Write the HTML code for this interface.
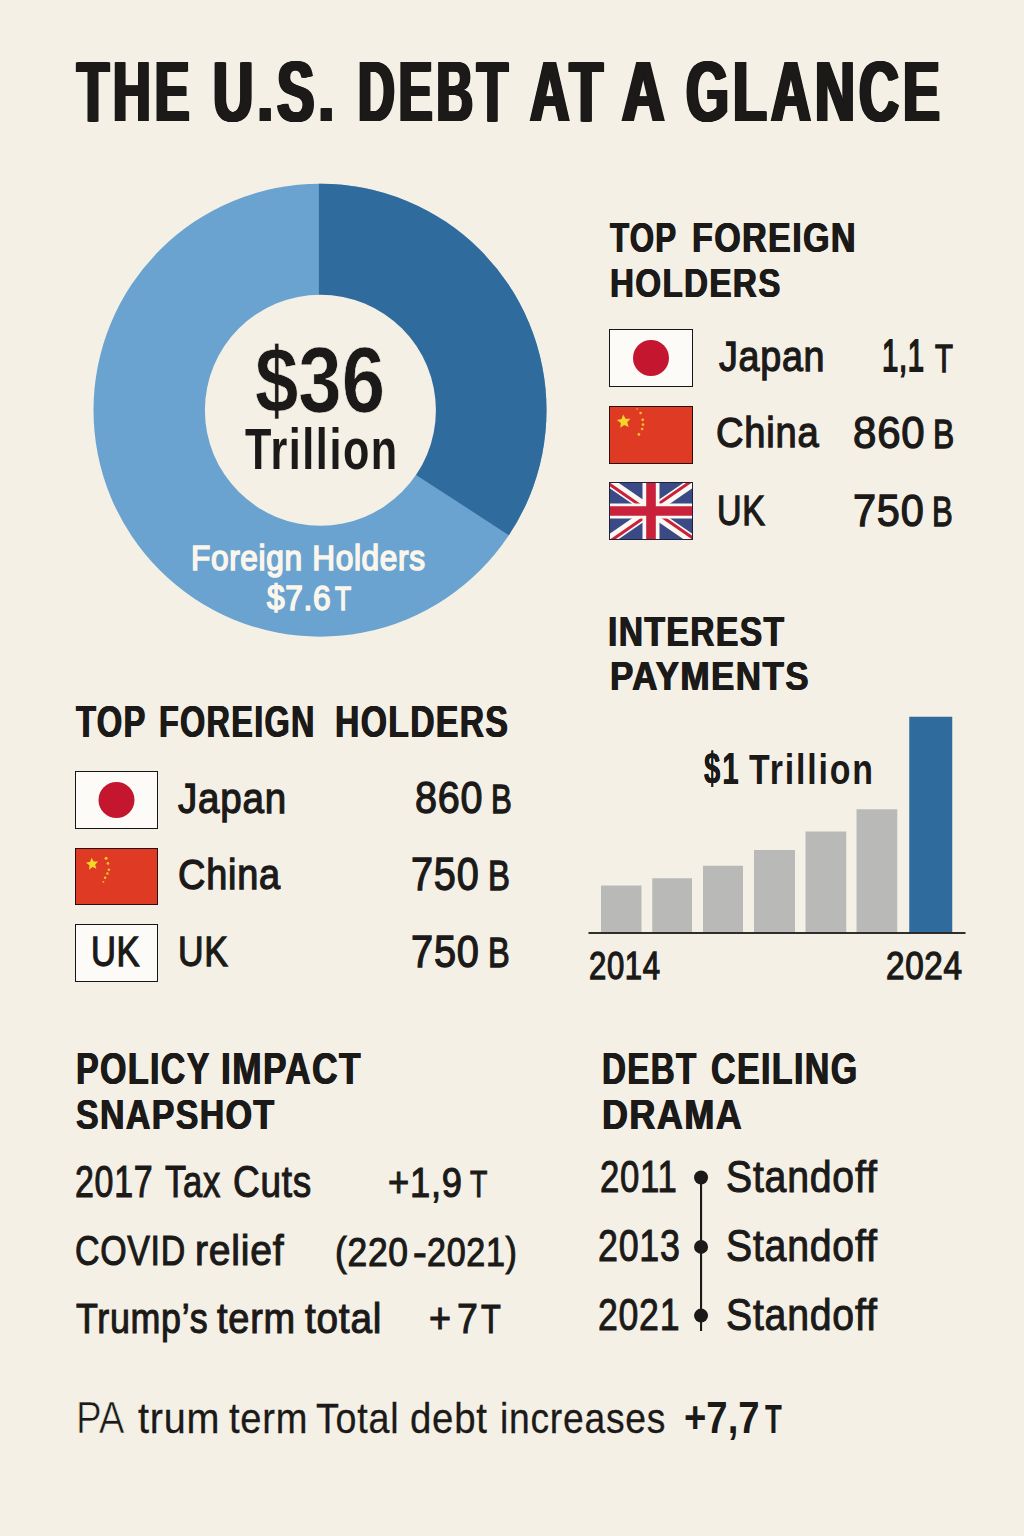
<!DOCTYPE html>
<html lang="en">
<head>
<meta charset="utf-8">
<title>The U.S. Debt at a Glance</title>
<style>
html,body{margin:0;padding:0}
body{width:1024px;height:1536px;position:relative;overflow:hidden;background:#f5f0e5;color:#1b1a19;font-family:"Liberation Sans",sans-serif;}
h1,h2,p,ul,li,section,header,footer,div{margin:0;padding:0;font-size:inherit;font-weight:normal;list-style:none}
svg.gfx{position:absolute;left:0;top:0;width:1024px;height:1536px;display:block}
.t{position:absolute;white-space:pre;line-height:1;transform-origin:0 0;display:block}
</style>
</head>
<body>
<svg class="gfx" width="1024" height="1536" viewBox="0 0 1024 1536" aria-hidden="true">
<g id="donut"><clipPath id="dc"><circle cx="320.0" cy="410.2" r="226.5"/></clipPath><circle cx="320.0" cy="410.2" r="226.5" fill="#6aa3cf"/><polygon clip-path="url(#dc)" points="318.9,150 318.9,411.7 416.9,475.4 620,607.4 620,150" fill="#2f6b9d"/><circle cx="320.4" cy="410.2" r="115.5" fill="#f5f0e5"/></g>
<g id="flags-right"><g><rect x="609.5" y="329.5" width="83" height="57" fill="#fcfbf8" stroke="#161616" stroke-width="1"/><circle cx="651.00" cy="358.00" r="18" fill="#c5162f"/></g><g><rect x="609.5" y="406.5" width="83" height="57" fill="#df3a23" stroke="#2a100c" stroke-width="1"/><polygon points="623.15,414.44 625.59,418.67 630.48,418.67 627.21,422.30 628.72,426.95 624.25,424.97 620.30,427.84 620.81,422.98 616.86,420.10 621.64,419.09" fill="#f6d52a"/><circle cx="637.10" cy="409.00" r="0.8" fill="#f2c230"/><circle cx="640.60" cy="413.00" r="1.3" fill="#f2c230"/><circle cx="642.70" cy="419.80" r="1.4" fill="#f2c230"/><circle cx="643.00" cy="424.60" r="1.3" fill="#f2c230"/><circle cx="642.10" cy="429.00" r="1.3" fill="#f2c230"/><circle cx="638.90" cy="434.40" r="1.4" fill="#f2c230"/></g><g><clipPath id="ukc"><rect x="609" y="482" width="84" height="58"/></clipPath>
<g clip-path="url(#ukc)"><rect x="609" y="482" width="84" height="58" fill="#3a4a87"/>
<path d="M651.00 511.00L602.42 477.45M651.00 511.00L699.58 477.45M651.00 511.00L699.58 544.55M651.00 511.00L602.42 544.55" stroke="#fbf8f2" stroke-width="9.5"/>
<path d="M650.09 512.32L601.51 478.77M650.09 509.68L698.67 476.14M651.91 509.68L700.49 543.23M651.91 512.32L603.33 545.86" stroke="#c9213b" stroke-width="3"/>
<path d="M651.0 482V540" stroke="#fbf8f2" stroke-width="17"/><path d="M609 511.0H693" stroke="#fbf8f2" stroke-width="15"/>
<path d="M651.0 482V540M609 511.0H693" stroke="#c9213b" stroke-width="9.6"/></g>
<rect x="609.5" y="482.5" width="83" height="57" fill="none" stroke="#1f2238" stroke-width="1"/></g></g>
<g id="flags-left"><g><rect x="75.5" y="771.5" width="82" height="57" fill="#fcfbf8" stroke="#161616" stroke-width="1"/><circle cx="116.50" cy="800.00" r="18" fill="#c5162f"/></g><g><rect x="75.5" y="848.5" width="82" height="56" fill="#df3a23" stroke="#2a100c" stroke-width="1"/><polygon points="91.53,857.74 93.70,861.49 98.05,861.50 95.14,864.73 96.48,868.86 92.51,867.09 89.00,869.64 89.45,865.32 85.94,862.77 90.19,861.86" fill="#f6d52a"/><circle cx="106.10" cy="858.30" r="1.5" fill="#f2c230"/><circle cx="107.90" cy="863.40" r="1.3" fill="#f2c230"/><circle cx="108.90" cy="869.70" r="1.3" fill="#f2c230"/><circle cx="107.40" cy="873.50" r="1.2" fill="#f2c230"/><circle cx="105.10" cy="877.80" r="1.3" fill="#f2c230"/><circle cx="103.40" cy="881.80" r="0.9" fill="#f2c230"/></g><rect x="75.5" y="924.5" width="82" height="57" fill="#fcfbf8" stroke="#161616" stroke-width="1"/></g>
<g id="bars"><rect x="601" y="885.5" width="40.50" height="47.00" fill="#b9b9b8"/><rect x="652.25" y="878.25" width="39.75" height="54.25" fill="#b9b9b8"/><rect x="703" y="865.75" width="40.00" height="66.75" fill="#b9b9b8"/><rect x="754" y="850" width="41.00" height="82.50" fill="#b9b9b8"/><rect x="805.5" y="831.5" width="40.75" height="101.00" fill="#b9b9b8"/><rect x="856.5" y="809.25" width="40.75" height="123.25" fill="#b9b9b8"/><rect x="909.25" y="716.75" width="43" height="215.75" fill="#2f6b9d"/><rect x="588.5" y="932.1" width="377" height="1.8" fill="#1b1a19"/></g>
<g id="timeline"><rect x="700" y="1177.5" width="2.1" height="153.5" fill="#1b1a19"/><circle cx="701.05" cy="1177.5" r="7" fill="#1b1a19"/><circle cx="701.05" cy="1246.9" r="7" fill="#1b1a19"/><circle cx="701.05" cy="1315.6" r="7" fill="#1b1a19"/></g>
</svg>
<header><h1><span class="t" style="left:76.68px;top:49.0px;font-size:85.71px;transform:scaleX(0.611);font-weight:bold;letter-spacing:6.43px;text-shadow:0.91px 0 0 #1b1a19,-0.91px 0 0 #1b1a19,1.83px 0 0 #1b1a19,-1.83px 0 0 #1b1a19,2.74px 0 0 #1b1a19,-2.74px 0 0 #1b1a19;">THE</span> <span class="t" style="left:212.53px;top:49.0px;font-size:85.71px;transform:scaleX(0.6505);font-weight:bold;letter-spacing:6.43px;text-shadow:0.91px 0 0 #1b1a19,-0.91px 0 0 #1b1a19,1.83px 0 0 #1b1a19,-1.83px 0 0 #1b1a19,2.74px 0 0 #1b1a19,-2.74px 0 0 #1b1a19;">U.S.</span> <span class="t" style="left:357.66px;top:49.0px;font-size:85.71px;transform:scaleX(0.5935);font-weight:bold;letter-spacing:6.43px;text-shadow:0.91px 0 0 #1b1a19,-0.91px 0 0 #1b1a19,1.83px 0 0 #1b1a19,-1.83px 0 0 #1b1a19,2.74px 0 0 #1b1a19,-2.74px 0 0 #1b1a19;">DEBT</span> <span class="t" style="left:529.97px;top:49.0px;font-size:85.71px;transform:scaleX(0.6386);font-weight:bold;letter-spacing:6.43px;text-shadow:0.91px 0 0 #1b1a19,-0.91px 0 0 #1b1a19,1.83px 0 0 #1b1a19,-1.83px 0 0 #1b1a19,2.74px 0 0 #1b1a19,-2.74px 0 0 #1b1a19;">AT</span> <span class="t" style="left:621.51px;top:49.0px;font-size:85.71px;transform:scaleX(0.6852);font-weight:bold;letter-spacing:6.43px;text-shadow:0.91px 0 0 #1b1a19,-0.91px 0 0 #1b1a19,1.83px 0 0 #1b1a19,-1.83px 0 0 #1b1a19,2.74px 0 0 #1b1a19,-2.74px 0 0 #1b1a19;">A</span> <span class="t" style="left:685.83px;top:49.0px;font-size:85.71px;transform:scaleX(0.6445);font-weight:bold;letter-spacing:6.43px;text-shadow:0.91px 0 0 #1b1a19,-0.91px 0 0 #1b1a19,1.83px 0 0 #1b1a19,-1.83px 0 0 #1b1a19,2.74px 0 0 #1b1a19,-2.74px 0 0 #1b1a19;">GLANCE</span></h1></header>
<section class="donut"><p><span class="t" style="left:255.36px;top:334.35px;font-size:92.43px;transform:scaleX(0.8428);font-weight:bold;-webkit-text-stroke:0.7px #f5f0e5;">$36</span> <span class="t" style="left:245.0px;top:421.0px;font-size:57.14px;transform:scaleX(0.7562);font-weight:bold;letter-spacing:2.0px;">Trillion</span> <span class="t" style="left:190.93px;top:540.2px;font-size:35.36px;transform:scaleX(0.8949);letter-spacing:0.71px;color:#fbf6ec;-webkit-text-stroke:1.6px #fbf6ec;">Foreign Holders</span> <span class="t" style="left:266.53px;top:581.2px;font-size:34.86px;transform:scaleX(0.908);letter-spacing:0.7px;color:#fbf6ec;-webkit-text-stroke:1.6px #fbf6ec;">$7.6</span> <span class="t" style="left:334.62px;top:582.2px;font-size:33.91px;transform:scaleX(0.7778);letter-spacing:0.68px;color:#fbf6ec;-webkit-text-stroke:1.6px #fbf6ec;">T</span></p></section>
<section class="holders-right">
<h2><span class="t" style="left:609.5px;top:216.0px;font-size:42.86px;transform:scaleX(0.7292);font-weight:bold;letter-spacing:1.71px;text-shadow:0.69px 0 0 #1b1a19,-0.69px 0 0 #1b1a19;">TOP</span> <span class="t" style="left:691.95px;top:216.0px;font-size:42.86px;transform:scaleX(0.7957);font-weight:bold;letter-spacing:1.71px;text-shadow:0.69px 0 0 #1b1a19,-0.69px 0 0 #1b1a19;">FOREIGN</span> <span class="t" style="left:609.68px;top:262.0px;font-size:41.43px;transform:scaleX(0.8015);font-weight:bold;letter-spacing:1.66px;text-shadow:0.66px 0 0 #1b1a19,-0.66px 0 0 #1b1a19;">HOLDERS</span></h2>
<ul><li><span class="t" style="left:718.82px;top:335.35px;font-size:43.04px;transform:scaleX(0.8746);letter-spacing:0.86px;-webkit-text-stroke:1.3px #1b1a19;">Japan</span> <span class="t" style="left:882.19px;top:334.1px;font-size:43.77px;transform:scaleX(0.6711);letter-spacing:0.88px;-webkit-text-stroke:1.8px #1b1a19;">1,1</span> <span class="t" style="left:935.24px;top:340.35px;font-size:38.7px;transform:scaleX(0.7593);letter-spacing:0.77px;-webkit-text-stroke:1.3px #1b1a19;">T</span></li><li><span class="t" style="left:715.81px;top:411.35px;font-size:43.04px;transform:scaleX(0.8851);letter-spacing:0.86px;-webkit-text-stroke:1.3px #1b1a19;">China</span> <span class="t" style="left:853.27px;top:411.35px;font-size:44.49px;transform:scaleX(0.9429);letter-spacing:0.89px;-webkit-text-stroke:1.3px #1b1a19;">860</span> <span class="t" style="left:932.89px;top:415.35px;font-size:40.14px;transform:scaleX(0.7918);letter-spacing:0.8px;-webkit-text-stroke:1.3px #1b1a19;">B</span></li><li><span class="t" style="left:717.08px;top:490.35px;font-size:41.59px;transform:scaleX(0.8179);letter-spacing:0.83px;-webkit-text-stroke:1.3px #1b1a19;">UK</span> <span class="t" style="left:853.24px;top:489.35px;font-size:44.49px;transform:scaleX(0.9312);letter-spacing:0.89px;-webkit-text-stroke:1.3px #1b1a19;">750</span> <span class="t" style="left:932.34px;top:491.35px;font-size:41.59px;transform:scaleX(0.7469);letter-spacing:0.83px;-webkit-text-stroke:1.3px #1b1a19;">B</span></li></ul>
</section>
<section class="interest">
<h2><span class="t" style="left:608.47px;top:610.0px;font-size:42.86px;transform:scaleX(0.7866);font-weight:bold;letter-spacing:1.71px;text-shadow:0.69px 0 0 #1b1a19,-0.69px 0 0 #1b1a19;">INTEREST</span> <span class="t" style="left:609.62px;top:655.0px;font-size:41.43px;transform:scaleX(0.8456);font-weight:bold;letter-spacing:1.66px;text-shadow:0.66px 0 0 #1b1a19,-0.66px 0 0 #1b1a19;">PAYMENTS</span></h2>
<p><span class="t" style="left:703.62px;top:748.0px;font-size:43.48px;transform:scaleX(0.6724);font-weight:bold;letter-spacing:3.04px;text-shadow:0.17px 0 0 #1b1a19,-0.17px 0 0 #1b1a19;">$1</span> <span class="t" style="left:749.0px;top:748.0px;font-size:42.86px;transform:scaleX(0.7897);font-weight:bold;letter-spacing:2.36px;">Trillion</span> <span class="t" style="left:589.47px;top:947.35px;font-size:38.7px;transform:scaleX(0.8024);letter-spacing:0.77px;-webkit-text-stroke:1.3px #1b1a19;">2014</span> <span class="t" style="left:885.7px;top:947.35px;font-size:38.7px;transform:scaleX(0.8591);letter-spacing:0.77px;-webkit-text-stroke:1.3px #1b1a19;">2024</span></p>
</section>
<section class="holders-left">
<h2><span class="t" style="left:75.77px;top:700.0px;font-size:44.29px;transform:scaleX(0.7395);font-weight:bold;letter-spacing:1.77px;text-shadow:0.71px 0 0 #1b1a19,-0.71px 0 0 #1b1a19;">TOP</span> <span class="t" style="left:159.31px;top:700.0px;font-size:44.29px;transform:scaleX(0.7316);font-weight:bold;letter-spacing:1.77px;text-shadow:0.71px 0 0 #1b1a19,-0.71px 0 0 #1b1a19;">FOREIGN</span> <span class="t" style="left:334.52px;top:700.0px;font-size:44.29px;transform:scaleX(0.7611);font-weight:bold;letter-spacing:1.77px;text-shadow:0.71px 0 0 #1b1a19,-0.71px 0 0 #1b1a19;">HOLDERS</span></h2>
<ul><li><span class="t" style="left:178.33px;top:777.35px;font-size:43.04px;transform:scaleX(0.8954);letter-spacing:0.86px;-webkit-text-stroke:1.3px #1b1a19;">Japan</span> <span class="t" style="left:415.19px;top:776.35px;font-size:44.49px;transform:scaleX(0.8885);letter-spacing:0.89px;-webkit-text-stroke:1.3px #1b1a19;">860</span> <span class="t" style="left:491.07px;top:780.35px;font-size:40.14px;transform:scaleX(0.7768);letter-spacing:0.8px;-webkit-text-stroke:1.3px #1b1a19;">B</span></li><li><span class="t" style="left:178.31px;top:853.35px;font-size:43.04px;transform:scaleX(0.8807);letter-spacing:0.86px;-webkit-text-stroke:1.3px #1b1a19;">China</span> <span class="t" style="left:411.09px;top:852.35px;font-size:45.94px;transform:scaleX(0.8625);letter-spacing:0.92px;-webkit-text-stroke:1.3px #1b1a19;">750</span> <span class="t" style="left:488.14px;top:855.35px;font-size:41.59px;transform:scaleX(0.7901);letter-spacing:0.83px;-webkit-text-stroke:1.3px #1b1a19;">B</span></li><li><span class="t" style="left:90.87px;top:930.35px;font-size:43.04px;transform:scaleX(0.8019);letter-spacing:0.86px;-webkit-text-stroke:1.3px #1b1a19;">UK</span> <span class="t" style="left:178.32px;top:930.35px;font-size:43.04px;transform:scaleX(0.823);letter-spacing:0.86px;-webkit-text-stroke:1.3px #1b1a19;">UK</span> <span class="t" style="left:411.04px;top:930.35px;font-size:44.49px;transform:scaleX(0.8938);letter-spacing:0.89px;-webkit-text-stroke:1.3px #1b1a19;">750</span> <span class="t" style="left:488.16px;top:932.35px;font-size:41.59px;transform:scaleX(0.7819);letter-spacing:0.83px;-webkit-text-stroke:1.3px #1b1a19;">B</span></li></ul>
</section>
<section class="policy">
<h2><span class="t" style="left:76.01px;top:1047.0px;font-size:44.29px;transform:scaleX(0.7677);font-weight:bold;letter-spacing:1.77px;text-shadow:0.71px 0 0 #1b1a19,-0.71px 0 0 #1b1a19;">POLICY</span> <span class="t" style="left:220.97px;top:1047.0px;font-size:44.29px;transform:scaleX(0.7958);font-weight:bold;letter-spacing:1.77px;text-shadow:0.71px 0 0 #1b1a19,-0.71px 0 0 #1b1a19;">IMPACT</span> <span class="t" style="left:76.25px;top:1093.0px;font-size:42.86px;transform:scaleX(0.792);font-weight:bold;letter-spacing:1.71px;text-shadow:0.69px 0 0 #1b1a19,-0.69px 0 0 #1b1a19;">SNAPSHOT</span></h2>
<ul><li><span class="t" style="left:75.4px;top:1159.45px;font-size:44.78px;transform:scaleX(0.759);letter-spacing:0.9px;-webkit-text-stroke:1.1px #1b1a19;">2017</span> <span class="t" style="left:164.9px;top:1159.45px;font-size:44.78px;transform:scaleX(0.7728);letter-spacing:0.9px;-webkit-text-stroke:1.1px #1b1a19;">Tax</span> <span class="t" style="left:232.8px;top:1159.45px;font-size:44.78px;transform:scaleX(0.8248);letter-spacing:0.9px;-webkit-text-stroke:1.1px #1b1a19;">Cuts</span> <span class="t" style="left:387.99px;top:1162.45px;font-size:41.88px;transform:scaleX(0.8676);letter-spacing:0.84px;-webkit-text-stroke:1.1px #1b1a19;">+1,9</span> <span class="t" style="left:469.67px;top:1166.45px;font-size:37.54px;transform:scaleX(0.7573);letter-spacing:0.75px;-webkit-text-stroke:1.1px #1b1a19;">T</span></li><li><span class="t" style="left:74.86px;top:1229.45px;font-size:43.33px;transform:scaleX(0.7834);letter-spacing:0.87px;-webkit-text-stroke:1.1px #1b1a19;">COVID</span> <span class="t" style="left:195.19px;top:1229.45px;font-size:43.33px;transform:scaleX(0.9028);letter-spacing:0.87px;-webkit-text-stroke:1.1px #1b1a19;">relief</span> <span class="t" style="left:334.71px;top:1233.45px;font-size:39.86px;transform:scaleX(0.8889);letter-spacing:0.8px;-webkit-text-stroke:1.1px #1b1a19;">(220</span> <span class="t" style="left:413.24px;top:1233.45px;font-size:39.86px;transform:scaleX(1.0331);letter-spacing:0.8px;-webkit-text-stroke:1.1px #1b1a19;">-</span> <span class="t" style="left:427.46px;top:1233.45px;font-size:39.86px;transform:scaleX(0.8552);letter-spacing:0.8px;-webkit-text-stroke:1.1px #1b1a19;">2021)</span></li><li><span class="t" style="left:75.72px;top:1298.45px;font-size:41.88px;transform:scaleX(0.855);letter-spacing:0.84px;-webkit-text-stroke:1.1px #1b1a19;">Trump’s</span> <span class="t" style="left:216.5px;top:1298.45px;font-size:41.88px;transform:scaleX(0.9066);letter-spacing:0.84px;-webkit-text-stroke:1.1px #1b1a19;">term</span> <span class="t" style="left:305.01px;top:1298.45px;font-size:41.88px;transform:scaleX(0.925);letter-spacing:0.84px;-webkit-text-stroke:1.1px #1b1a19;">total</span> <span class="t" style="left:429.42px;top:1297.45px;font-size:42.71px;transform:scaleX(0.8824);letter-spacing:0.85px;-webkit-text-stroke:1.1px #1b1a19;">+</span> <span class="t" style="left:456.53px;top:1297.45px;font-size:42.71px;transform:scaleX(0.8768);letter-spacing:0.85px;-webkit-text-stroke:1.1px #1b1a19;">7</span> <span class="t" style="left:480.84px;top:1299.45px;font-size:40.43px;transform:scaleX(0.8008);letter-spacing:0.81px;-webkit-text-stroke:1.1px #1b1a19;">T</span></li></ul>
</section>
<section class="ceiling">
<h2><span class="t" style="left:602.03px;top:1047.0px;font-size:44.29px;transform:scaleX(0.7483);font-weight:bold;letter-spacing:1.77px;text-shadow:0.71px 0 0 #1b1a19,-0.71px 0 0 #1b1a19;">DEBT</span> <span class="t" style="left:710.53px;top:1047.0px;font-size:44.29px;transform:scaleX(0.7686);font-weight:bold;letter-spacing:1.77px;text-shadow:0.71px 0 0 #1b1a19,-0.71px 0 0 #1b1a19;">CEILING</span> <span class="t" style="left:601.9px;top:1093.0px;font-size:42.86px;transform:scaleX(0.8399);font-weight:bold;letter-spacing:1.71px;text-shadow:0.69px 0 0 #1b1a19,-0.69px 0 0 #1b1a19;">DRAMA</span></h2>
<ul><li><span class="t" style="left:600.2px;top:1155.5px;font-size:43.48px;transform:scaleX(0.7987);letter-spacing:0.87px;-webkit-text-stroke:1.0px #1b1a19;">2011</span> <span class="t" style="left:725.95px;top:1155.5px;font-size:43.48px;transform:scaleX(0.9016);letter-spacing:0.87px;-webkit-text-stroke:1.0px #1b1a19;">Standoff</span></li><li><span class="t" style="left:597.66px;top:1224.5px;font-size:43.48px;transform:scaleX(0.8236);letter-spacing:0.87px;-webkit-text-stroke:1.0px #1b1a19;">2013</span> <span class="t" style="left:725.95px;top:1224.5px;font-size:43.48px;transform:scaleX(0.9016);letter-spacing:0.87px;-webkit-text-stroke:1.0px #1b1a19;">Standoff</span></li><li><span class="t" style="left:597.71px;top:1292.5px;font-size:44.93px;transform:scaleX(0.7938);letter-spacing:0.9px;-webkit-text-stroke:1.0px #1b1a19;">2021</span> <span class="t" style="left:725.95px;top:1293.5px;font-size:43.48px;transform:scaleX(0.9016);letter-spacing:0.87px;-webkit-text-stroke:1.0px #1b1a19;">Standoff</span></li></ul>
</section>
<footer><p><span class="t" style="left:75.62px;top:1396.0px;font-size:44.93px;transform:scaleX(0.8587);-webkit-text-stroke:0.7px #f5f0e5;">PA</span> <span class="t" style="left:138.39px;top:1397.85px;font-size:41.59px;transform:scaleX(0.9512);letter-spacing:0.83px;-webkit-text-stroke:0.3px #1b1a19;">trum</span> <span class="t" style="left:228.89px;top:1397.85px;font-size:41.59px;transform:scaleX(0.9152);letter-spacing:0.83px;-webkit-text-stroke:0.3px #1b1a19;">term</span> <span class="t" style="left:315.64px;top:1397.85px;font-size:41.59px;transform:scaleX(0.9051);letter-spacing:0.83px;-webkit-text-stroke:0.3px #1b1a19;">Total</span> <span class="t" style="left:410.47px;top:1397.85px;font-size:41.59px;transform:scaleX(0.9228);letter-spacing:0.83px;-webkit-text-stroke:0.3px #1b1a19;">debt</span> <span class="t" style="left:500.24px;top:1397.85px;font-size:41.59px;transform:scaleX(0.8956);letter-spacing:0.83px;-webkit-text-stroke:0.3px #1b1a19;">increases</span> <span class="t" style="left:683.84px;top:1396.0px;font-size:44.29px;transform:scaleX(0.8645);font-weight:bold;">+7,7</span> <span class="t" style="left:765.0px;top:1398.0px;font-size:41.43px;transform:scaleX(0.664);font-weight:bold;">T</span></p></footer>
</body>
</html>
